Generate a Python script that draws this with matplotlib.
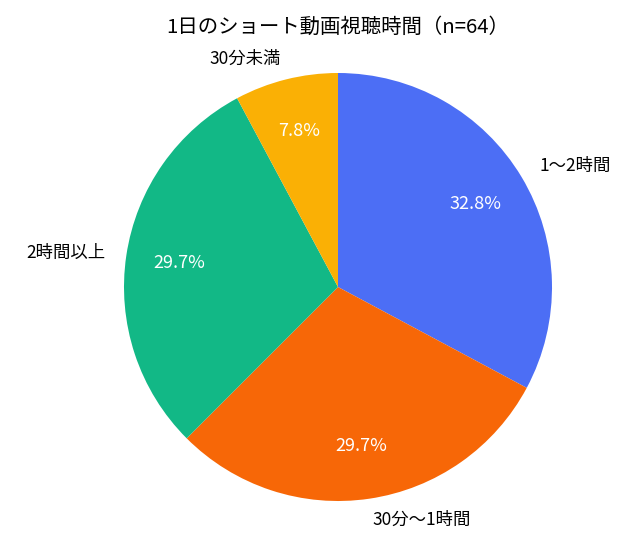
import matplotlib
matplotlib.use('Agg')
import matplotlib.pyplot as plt

plt.rcParams['font.family'] = ['Noto Sans CJK JP', 'DejaVu Sans']

# 回答数 (n=64)
labels = ['1〜2時間', '30分〜1時間', '2時間以上', '30分未満']
counts = [21, 19, 19, 5]
colors = ['#4c6ef5', '#f76707', '#12b886', '#fab005']

fig = plt.figure(figsize=(6.4, 5.38), dpi=100)
# 円の中心 (338, 287) px, 半径 214 px
ax = fig.add_axes([(338 - 214) / 640, (538 - 287 - 214) / 538, 428 / 640, 428 / 538])

wedges, texts, autotexts = ax.pie(
    counts, labels=labels, colors=colors, startangle=90, counterclock=False,
    autopct='%1.1f%%', pctdistance=0.75, labeldistance=1.1,
    textprops={'fontsize': 12.5})
for t in autotexts:
    t.set_color('white')
    t.set_fontsize(13)
ax.set_xlim(-1, 1)
ax.set_ylim(-1, 1)
ax.set_aspect('equal')

fig.text(338 / 640, 1 - 27 / 538, '1日のショート動画視聴時間（n=64）',
         ha='center', va='center', fontsize=14.7)

fig.savefig('out.png', dpi=100)
